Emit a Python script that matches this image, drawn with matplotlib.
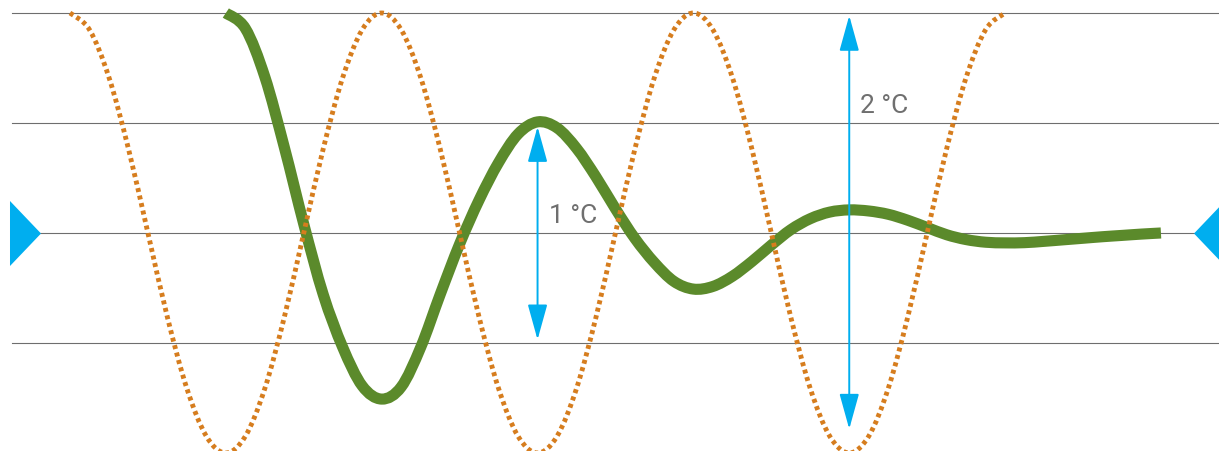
import matplotlib
matplotlib.use("Agg")
import matplotlib.pyplot as plt
from matplotlib.path import Path
from matplotlib.patches import PathPatch, FancyArrowPatch, ArrowStyle
from matplotlib.transforms import blended_transform_factory

# ---------------- data ----------------
# time axis in arbitrary units (one full cycle of the dotted curve = 16 units)
orange_t = list(range(0, 49))
orange_v = [1.0, 0.924, 0.707, 0.383, 0.0, -0.383, -0.707, -0.924,
            -1.0, -0.924, -0.707, -0.383, 0.0, 0.383, 0.707, 0.924,
            1.0, 0.924, 0.707, 0.383, 0.0, -0.383, -0.707, -0.924,
            -1.0, -0.924, -0.707, -0.383, 0.0, 0.383, 0.707, 0.924,
            1.0, 0.924, 0.707, 0.383, 0.0, -0.383, -0.707, -0.924,
            -1.0, -0.924, -0.707, -0.383, 0.0, 0.383, 0.707, 0.924,
            1.0]

green_t = list(range(8, 57))
green_v = [1.0, 0.93, 0.71, 0.39, 0.04, -0.28, -0.52, -0.695,
           -0.755, -0.70, -0.52, -0.28, -0.05, 0.15, 0.32, 0.45,
           0.505, 0.478, 0.385, 0.255, 0.11, -0.025, -0.135, -0.22,
           -0.255, -0.243, -0.197, -0.13, -0.055, 0.015, 0.065, 0.095,
           0.105, 0.10, 0.085, 0.058, 0.025, -0.008, -0.03, -0.042,
           -0.045, -0.044, -0.038, -0.031, -0.024, -0.017, -0.011, -0.005,
           0.0]

grid_levels = [-0.5, 0.0, 0.5, 1.0]

arrow_t = [24, 40]
arrow_top = [0.483, 0.988]
arrow_bottom = [-0.485, -0.891]
arrow_labels = ["1 °C", "2 °C"]
label_y = [0.051, 0.549]

# ---------------- styles ----------------
ORANGE = "#D67D1E"
GREEN = "#5B8A2B"
BLUE = "#00AEEF"
GRID = "#6E6E6E"
TEXT = "#6F6F6F"


def smooth_path(xs, ys):
    """Smooth (Catmull-Rom style Bezier) path through the given points."""
    n = len(xs)
    verts = [(xs[0], ys[0])]
    codes = [Path.MOVETO]
    for i in range(n - 1):
        a = i - 1 if i > 0 else i
        d = i + 2 if i + 2 < n else i + 1
        c1 = (xs[i] + (xs[i + 1] - xs[a]) / 6.0, ys[i] + (ys[i + 1] - ys[a]) / 6.0)
        c2 = (xs[i + 1] - (xs[d] - xs[i]) / 6.0, ys[i + 1] - (ys[d] - ys[i]) / 6.0)
        verts += [c1, c2, (xs[i + 1], ys[i + 1])]
        codes += [Path.CURVE4] * 3
    return Path(verts, codes)


fig = plt.figure(figsize=(12.19, 4.52), dpi=100)
ax = fig.add_axes([0, 0, 1, 1])
ax.set_axis_off()
ax.set_xlim(-3.593, 58.98)
ax.set_ylim(-0.991, 1.0636)

# grid lines
for g in grid_levels:
    ax.axhline(g, xmin=0.0098, xmax=1.0, color=GRID, lw=0.8, zorder=1)

# green damped curve
gp = PathPatch(smooth_path(green_t, green_v), fill=False, edgecolor=GREEN,
               lw=8.0, capstyle="butt", joinstyle="round", zorder=2)
ax.add_patch(gp)

# orange dotted curve
op = PathPatch(smooth_path(orange_t, orange_v), fill=False, edgecolor=ORANGE,
               lw=3.5, linestyle=(0, (0.82, 0.76)), capstyle="butt", zorder=3)
ax.add_patch(op)

# arrows and labels
style = ArrowStyle("<|-|>", head_length=22.0, head_width=6.1)
for t, top, bot, lab, ly in zip(arrow_t, arrow_top, arrow_bottom, arrow_labels, label_y):
    arr = FancyArrowPatch((t, bot), (t, top), arrowstyle=style, mutation_scale=1,
                          color=BLUE, lw=1.4, shrinkA=0, shrinkB=0, zorder=4)
    ax.add_patch(arr)
    ax.annotate(lab, xy=(t, ly), xytext=(8, 0), textcoords="offset points",
                ha="left", va="baseline", fontsize=19, color=TEXT,
                family=["Roboto", "DejaVu Sans"], zorder=5)

# zero-level triangle markers at both edges
tr = blended_transform_factory(ax.transAxes, ax.transData)
left_tri = [(-0.477, -1), (-0.477, 1), (0.477, 0)]
right_tri = [(0.477, -1), (0.477, 1), (-0.477, 0)]
ax.plot([0.0201], [0.0], transform=tr, marker=left_tri, markersize=46.8,
        color=BLUE, markeredgewidth=0, linestyle="none", clip_on=False, zorder=5)
ax.plot([0.9914], [0.0], transform=tr, marker=right_tri, markersize=46.8,
        color=BLUE, markeredgewidth=0, linestyle="none", clip_on=False, zorder=5)

fig.savefig("out.png", dpi=100)
